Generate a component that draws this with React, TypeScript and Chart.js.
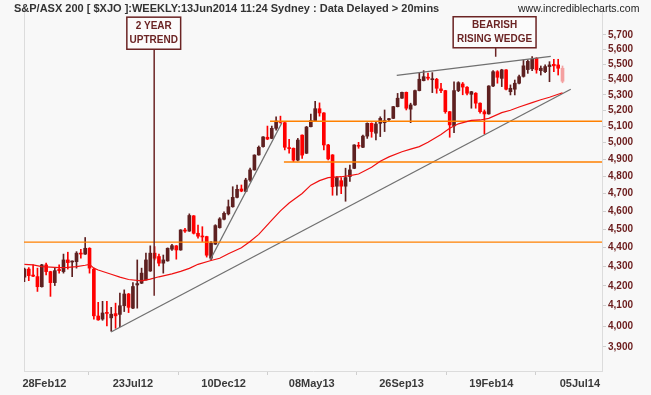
import React, { useEffect, useRef } from 'react';
import { Chart, registerables } from 'chart.js';

Chart.register(...registerables);

// Weekly candles (week 0 = last week of Jan 2012 ... week 124 = 13 Jun 2014)
const opens = [
  4245, 4287, 4256, 4248, 4196, 4309, 4274, 4217, 4285, 4274,
  4335, 4324, 4326, 4371, 4366, 4397, 4287, 4049, 4034, 4066,
  4040, 4061, 4057, 4100, 4159, 4088, 4205, 4214, 4231, 4277,
  4371, 4353, 4318, 4330, 4392, 4410, 4388, 4496, 4490, 4574,
  4478, 4462, 4460, 4344, 4419, 4509, 4555, 4585, 4625, 4678,
  4726, 4712, 4778, 4837, 4926, 4976, 5033, 5026, 5088, 5130,
  5123, 4968, 4966, 4895, 5046, 4936, 5098, 5136, 5211, 5184,
  4986, 4926, 4742, 4774, 4742, 4798, 4846, 4982, 4972, 5040,
  5119, 5058, 5119, 5123, 5142, 5150, 5224, 5278, 5316, 5208,
  5235, 5327, 5392, 5414, 5398, 5401, 5338, 5327, 5192, 5103,
  5327, 5370, 5349, 5303, 5310, 5246, 5192, 5178, 5357, 5451,
  5407, 5463, 5320, 5336, 5375, 5420, 5465, 5470, 5541, 5458,
  5451, 5485, 5500, 5496, 5474,
];
const highs = [
  4292, 4295, 4309, 4292, 4312, 4318, 4276, 4292, 4309, 4366,
  4376, 4330, 4379, 4392, 4455, 4400, 4292, 4117, 4122, 4122,
  4092, 4113, 4164, 4180, 4162, 4217, 4335, 4292, 4371, 4410,
  4406, 4366, 4361, 4399, 4418, 4412, 4498, 4505, 4585, 4576,
  4523, 4514, 4462, 4433, 4525, 4564, 4597, 4663, 4739, 4749,
  4749, 4788, 4847, 4927, 4980, 5037, 5102, 5102, 5160, 5164,
  5125, 5020, 4968, 5026, 5048, 5100, 5177, 5258, 5248, 5186,
  4990, 4928, 4798, 4792, 4847, 4866, 4988, 5002, 5046, 5122,
  5122, 5129, 5160, 5203, 5150, 5226, 5309, 5318, 5318, 5246,
  5330, 5441, 5458, 5441, 5445, 5407, 5375, 5329, 5194, 5385,
  5385, 5380, 5353, 5322, 5314, 5248, 5203, 5359, 5458, 5458,
  5467, 5465, 5364, 5396, 5429, 5529, 5530, 5552, 5545, 5489,
  5496, 5518, 5534, 5534, 5489,
];
const lows = [
  4222, 4227, 4248, 4172, 4194, 4257, 4147, 4202, 4266, 4266,
  4287, 4248, 4292, 4345, 4364, 4266, 4034, 4028, 4028, 4000,
  3975, 3989, 3997, 4071, 4066, 4086, 4088, 4212, 4229, 4275,
  4335, 4304, 4266, 4328, 4385, 4339, 4386, 4482, 4488, 4474,
  4452, 4433, 4350, 4335, 4417, 4506, 4551, 4579, 4622, 4675,
  4710, 4710, 4770, 4835, 4924, 4972, 5018, 5024, 5077, 5120,
  4956, 4936, 4886, 4890, 4905, 4934, 5096, 5130, 5164, 4956,
  4896, 4690, 4690, 4699, 4656, 4770, 4844, 4966, 4970, 5026,
  5033, 5016, 5037, 5068, 5129, 5148, 5222, 5276, 5203, 5123,
  5232, 5325, 5390, 5396, 5314, 5310, 5314, 5182, 5033, 5061,
  5320, 5300, 5299, 5214, 5214, 5182, 5053, 5176, 5353, 5375,
  5353, 5331, 5299, 5299, 5370, 5415, 5440, 5458, 5441, 5429,
  5445, 5385, 5451, 5429, 5378,
];
const closes = [
  4287, 4253, 4250, 4196, 4309, 4274, 4217, 4279, 4279, 4335,
  4321, 4328, 4371, 4366, 4397, 4292, 4050, 4030, 4064, 4062,
  4058, 4050, 4100, 4159, 4092, 4197, 4212, 4266, 4335, 4371,
  4344, 4318, 4335, 4397, 4411, 4388, 4496, 4490, 4576, 4478,
  4462, 4458, 4360, 4424, 4520, 4557, 4588, 4625, 4678, 4724,
  4714, 4778, 4837, 4925, 4972, 5035, 5022, 5088, 5133, 5125,
  4972, 4964, 4895, 5016, 4925, 5096, 5136, 5211, 5184, 4986,
  4902, 4739, 4792, 4742, 4792, 4837, 4986, 4978, 5040, 5119,
  5068, 5115, 5150, 5136, 5146, 5224, 5278, 5316, 5214, 5235,
  5327, 5401, 5418, 5408, 5402, 5342, 5327, 5192, 5109, 5327,
  5379, 5350, 5310, 5320, 5246, 5192, 5178, 5357, 5451, 5414,
  5463, 5336, 5342, 5375, 5418, 5490, 5520, 5534, 5463, 5474,
  5485, 5496, 5490, 5474, 5388,
];

// Moving average (week, value)
const maWeeks = [
  0, 2, 4, 8, 10, 12, 14, 15, 16, 17, 20, 22, 24, 27, 29, 31, 34, 36, 38, 40,
  43, 45, 47, 50, 52, 54, 57, 59, 61, 64, 66, 68, 70, 73, 75, 77, 80, 82, 84, 87,
  89, 91, 93, 96, 98, 100, 103, 105, 107, 110, 112, 114, 117, 119, 121, 124,
];
const maValues = [
  4312, 4309, 4300, 4295, 4296, 4300, 4307, 4312, 4292, 4282, 4260, 4245, 4233, 4226, 4235, 4247, 4262, 4275, 4291, 4312,
  4332, 4344, 4368, 4400, 4433, 4472, 4550, 4602, 4646, 4700, 4748, 4774, 4792, 4797, 4803, 4813, 4852, 4888, 4914, 4945,
  4961, 4976, 5002, 5050, 5088, 5116, 5137, 5140, 5150, 5186, 5201, 5222, 5250, 5268, 5284, 5313,
];

// Axis ticks
const xTickWeeks = [4.6, 25.0, 45.9, 66.2, 86.9, 107.6, 128.0];
const xTickLabels = ['28Feb12', '23Jul12', '10Dec12', '08May13', '26Sep13', '19Feb14', '05Jul14'];
const yTickValues = [3900, 4000, 4100, 4200, 4300, 4400, 4500, 4600, 4700, 4800, 4900, 5000, 5100, 5200, 5300, 5400, 5500, 5600, 5700];
const X_MIN = -0.1;
const X_MAX = 133.1;
const Y_MIN = 3787;
const Y_MAX = 5876;

// Horizontal support / resistance levels
const levelValues = [4430, 4884, 5132];
const levelStartWeeks = [X_MIN, 59.8, 56.6];

// Trend lines (start week/value, end week/value)
const trendStartWeeks = [19.95, 42.8, 85.8];
const trendStartValues = [3971, 4335, 5426];
const trendEndWeeks = [125.9, 59.3, 121.3];
const trendEndValues = [5336, 5121, 5553];

// Annotation boxes
const noteLines = [['2 YEAR', 'UPTREND'], ['BEARISH', 'RISING WEDGE']];
const noteFromWeeks = [23.6, 98.8];
const noteToWeeks = [36.0, 117.9];
const noteTopValues = [5825, 5828];
const noteBottomValues = [5602, 5612];
const notePointerWeeks = [29.9, 108.6];
const notePointerEndValues = [4150, 5551];

const UP = '#5e2020';
const DOWN = '#ff0000';
const LAST = '#f4a0a0';
const MAROON = '#6b2424';
const FONT = "'Liberation Sans', Arial, sans-serif";

const decorPlugin = {
  id: 'decor',
  beforeDatasetsDraw(chart: any) {
    const { ctx, chartArea } = chart;
    ctx.save();
    ctx.strokeStyle = '#dcdcdc';
    ctx.lineWidth = 1;
    ctx.beginPath();
    ctx.moveTo(chartArea.left + 0.5, chartArea.top);
    ctx.lineTo(chartArea.left + 0.5, chartArea.bottom);
    ctx.stroke();
    ctx.restore();
  },
  afterDatasetsDraw(chart: any) {
    const { ctx } = chart;
    const xs = chart.scales.x;
    const ys = chart.scales.y;
    ctx.save();
    for (let k = 0; k < noteLines.length; k++) {
      const x1 = xs.getPixelForValue(noteFromWeeks[k]);
      const x2 = xs.getPixelForValue(noteToWeeks[k]);
      const y1 = ys.getPixelForValue(noteTopValues[k]);
      const y2 = ys.getPixelForValue(noteBottomValues[k]);
      const px = xs.getPixelForValue(notePointerWeeks[k]);
      const py = ys.getPixelForValue(notePointerEndValues[k]);
      ctx.strokeStyle = MAROON;
      ctx.lineWidth = 1.5;
      ctx.beginPath();
      ctx.moveTo(px, y2);
      ctx.lineTo(px, py);
      ctx.stroke();
      ctx.fillStyle = '#fbfbfb';
      ctx.fillRect(x1, y1, x2 - x1, y2 - y1);
      ctx.strokeRect(x1, y1, x2 - x1, y2 - y1);
      ctx.fillStyle = MAROON;
      ctx.font = `bold 10px ${FONT}`;
      ctx.textAlign = 'center';
      ctx.textBaseline = 'middle';
      const cx = (x1 + x2) / 2;
      const cy = (y1 + y2) / 2;
      ctx.fillText(noteLines[k][0], cx, cy - 7);
      ctx.fillText(noteLines[k][1], cx, cy + 7);
    }
    ctx.restore();
  },
};

export default function App() {
  const ref = useRef<HTMLCanvasElement | null>(null);

  useEffect(() => {
    if (!ref.current) return;
    const n = closes.length;
    const weeks = closes.map((_, i) => i);
    const colors = weeks.map((i) => (i === n - 1 ? LAST : closes[i] >= opens[i] ? UP : DOWN));

    const lineBase = {
      type: 'line' as const,
      pointRadius: 0,
      tension: 0,
      fill: false,
      borderWidth: 1.4,
    };

    const levelSets = levelValues.map((v, k) => ({
      ...lineBase,
      label: 'level' + k,
      data: [
        { x: levelStartWeeks[k], y: v },
        { x: X_MAX, y: v },
      ],
      borderColor: '#ff8000',
      order: -1,
    }));

    const trendSets = trendStartWeeks.map((w, k) => ({
      ...lineBase,
      label: 'trend' + k,
      data: [
        { x: w, y: trendStartValues[k] },
        { x: trendEndWeeks[k], y: trendEndValues[k] },
      ],
      borderColor: '#707070',
      borderWidth: 1.3,
      order: -1,
    }));

    const chart = new Chart(ref.current, {
      type: 'bar',
      data: {
        datasets: [
          {
            type: 'bar',
            label: 'wicks',
            data: weeks.map((i) => ({ x: i, y: [lows[i], highs[i]] })) as any,
            backgroundColor: colors,
            barThickness: 1,
            grouped: false,
            borderWidth: 0,
            order: 1,
          },
          {
            type: 'bar',
            label: 'bodies',
            data: weeks.map((i) => ({
              x: i,
              y: [Math.min(opens[i], closes[i]), Math.max(opens[i], closes[i])],
            })) as any,
            backgroundColor: colors,
            barThickness: 3,
            minBarLength: 1,
            grouped: false,
            borderWidth: 0,
            order: 0,
          },
          {
            ...lineBase,
            label: 'MA',
            data: maWeeks.map((w, k) => ({ x: w, y: maValues[k] })),
            borderColor: '#f01010',
            borderWidth: 1.2,
            order: -2,
          },
          ...levelSets,
          ...trendSets,
        ] as any,
      },
      options: {
        animation: false,
        responsive: false,
        devicePixelRatio: 1,
        events: [],
        layout: { padding: { left: 24, top: 10, right: 0, bottom: 0 } },
        plugins: { legend: { display: false }, tooltip: { enabled: false }, title: { display: false } },
        scales: {
          x: {
            type: 'linear',
            min: X_MIN,
            max: X_MAX,
            offset: false,
            bounds: 'data',
            grid: { drawOnChartArea: false, drawTicks: true, tickLength: 4, color: '#cfcfcf' },
            border: { display: true, color: '#dcdcdc' },
            ticks: {
              autoSkip: false,
              maxRotation: 0,
              padding: 2,
              color: '#3a3a3a',
              font: { family: FONT, size: 11, weight: 'bold' },
              callback: (v: any) => {
                const k = xTickWeeks.indexOf(Number(v));
                return k >= 0 ? xTickLabels[k] : '';
              },
            },
            afterBuildTicks: (scale: any) => {
              scale.ticks = xTickWeeks.map((w) => ({ value: w }));
            },
            afterFit: (scale: any) => {
              scale.height = 24;
            },
          } as any,
          y: {
            type: 'logarithmic',
            position: 'right',
            min: Y_MIN,
            max: Y_MAX,
            bounds: 'data',
            beginAtZero: false,
            grid: { drawOnChartArea: false, drawTicks: true, tickLength: 4, color: '#cfcfcf' },
            border: { display: true, color: '#dcdcdc' },
            ticks: {
              autoSkip: false,
              padding: 2,
              color: '#6b1c1c',
              font: { family: FONT, size: 10, weight: 'bold' },
              callback: (v: any) => Number(v).toLocaleString('en-US'),
            },
            afterBuildTicks: (scale: any) => {
              scale.ticks = yTickValues.map((v) => ({ value: v }));
            },
            afterFit: (scale: any) => {
              scale.width = 49;
            },
          } as any,
        },
      },
      plugins: [decorPlugin],
    });

    return () => chart.destroy();
  }, []);

  return (
    <div
      style={{
        position: 'absolute',
        left: 0,
        top: 0,
        width: 651,
        height: 395,
        background: '#f8f8f8',
        overflow: 'hidden',
      }}
    >
      <canvas ref={ref} width={651} height={395} style={{ display: 'block', width: 651, height: 395 }} />
      <div
        style={{
          position: 'absolute',
          left: 14,
          top: 1,
          font: `bold 11px ${FONT}`,
          color: '#333333',
          whiteSpace: 'nowrap',
          lineHeight: '14px',
        }}
      >
        S&amp;P/ASX 200 [ $XJO ]:WEEKLY:13Jun2014 11:24 Sydney : Data Delayed &gt; 20mins
      </div>
      <div
        style={{
          position: 'absolute',
          left: 518,
          top: 1,
          font: `10.5px ${FONT}`,
          color: '#222222',
          whiteSpace: 'nowrap',
          lineHeight: '14px',
        }}
      >
        www.incrediblecharts.com
      </div>
    </div>
  );
}
